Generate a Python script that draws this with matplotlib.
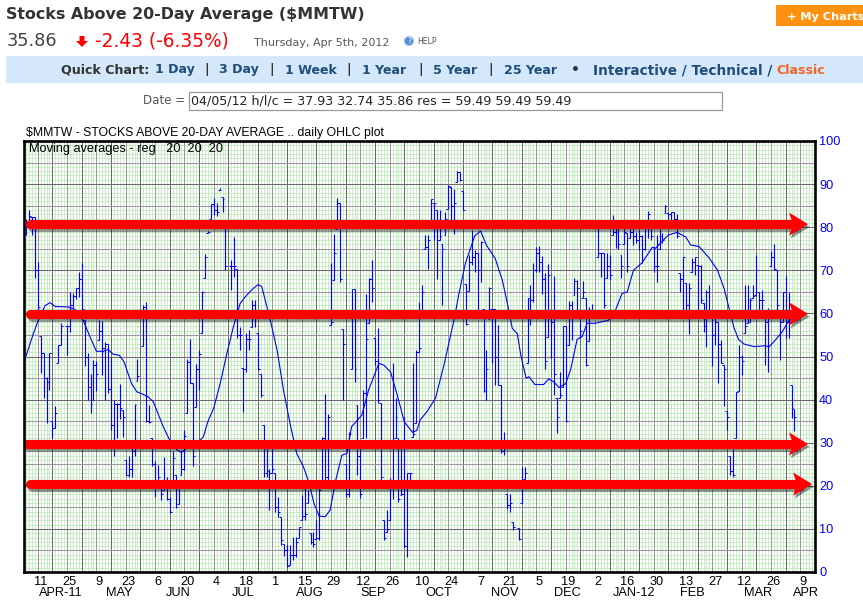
import numpy as np
import pandas as pd
import matplotlib
matplotlib.use('Agg')
import matplotlib.pyplot as plt
import matplotlib.patheffects as pe
from matplotlib.patches import Polygon, Rectangle, Circle

#####chart data, one value per trading day, nan = market closed###########
nan = np.nan
bar_high = [81.8,84.1,82.3,82.3,71.9,54.8,50.7,45.2,50.7,35.1,
            38.6,52.7,57.7,nan,57.3,65,64.7,66,69.5,71.6,
            58.5,50.7,45.9,49.2,49,58.5,58.3,53.3,53,50,
            40,39.1,43.6,37.6,26,26.8,30,39,49.4,nan,
            62,62.7,38.7,31,25.7,24.8,19.4,26.7,22,17.5,
            28.1,22.5,21,28.3,32.9,49.4,54,43.8,48.3,51.5,
            65.2,73.7,79.2,85.4,86.7,85.5,89,87,79.7,nan,
            72.4,77.8,70.4,56.9,47.4,55.4,56.2,63.1,63.1,55.4,
            46,34.1,29,24,29,22.9,17.5,12.8,6.6,6.2,
            6.2,8.2,8.2,10.5,17.8,19.4,19,9,9.3,12,
            20.5,31.4,41.3,36.6,71.6,78.5,86.7,85.7,56.3,25,
            32.5,65.6,65.6,38.7,28.7,42.2,64.6,68.1,72.4,54.2,
            56.5,39.1,12,14.4,21.7,48.4,40.3,31,29,36,
            23,23,48.4,51.5,62.7,66.6,78.2,78.2,86.5,85.7,
            84,84,76.2,83.6,89.8,89.4,88.8,93,92.9,88.4,
            66.9,73.5,79.3,74.7,73.9,76.8,61.1,51.6,66.2,61.1,
            61.1,57.3,43.4,32.5,18.2,18.2,11.6,nan,10.3,24.4,
            24.4,63.5,66.7,71.8,75.5,75.6,73.4,69.4,71.4,58.9,
            68.7,40.3,46.5,57,57,62.9,62.9,68.2,67.8,60.4,
            67.5,63.5,61.6,62.1,nan,79.8,74,74,74,73.6,
            82.9,79.8,80,73.6,80,78.6,80,79.8,79,79.4,
            78.2,81.7,83.8,79.8,75.5,78.2,80,78.6,85.2,83.3,
            83.6,83.6,83,69.3,73.2,67,67,72.8,73.2,71.3,
            71.3,62.4,65.5,66.6,58.9,58.9,58.1,53.9,48,37.4,
            26.9,28.7,41.7,52.7,50.4,66.6,66.6,63.5,66.6,73.6,
            65,65.4,59.7,61.2,74.4,76,70.1,60.8,65,68.6,
            65,43.4,37.93]
bar_low  = [78.2,80.1,78.2,68.1,60,46.2,40.3,34.6,42.2,31,
            33.3,48.4,52.7,nan,50.3,55.8,61.2,63.3,63.9,60,
            47.8,39.9,37,39.9,42,53.8,45.7,39.9,41.5,33,
            26.8,31,35.6,31.4,22.5,22,22,26.8,44.2,nan,
            52.4,34.8,34.6,24.5,17.5,21.3,16.7,19,16.7,13.6,
            21.3,14.8,15.8,22.5,23.7,36.8,43.8,24.5,38.2,42.2,
            55.4,68.3,78.6,82,82.8,82.5,88.6,83.6,70,nan,
            65.4,68.5,54.2,51.5,37.2,46.5,51.5,56.9,56.9,46.9,
            40.7,22.1,22,14.4,22.9,14,12.8,6.2,3.7,1.2,
            1.6,2.8,3.5,7.8,12,12,16,6.6,5.9,7.6,
            7.5,21.3,21.3,21.3,57.3,67.7,79.5,67.3,39.9,17.4,
            17.4,47.2,44.1,22.5,17.1,31,31,57.7,62.7,48,
            39.1,21.3,7.4,9.3,12,17,31,16.3,17.8,5.8,
            3.5,21,31.4,34.5,51,60.4,75,70.4,81,77,
            68,77,61.9,78.2,84.3,81.6,78.5,90.5,90.7,84,
            57.3,65.2,71.2,69.5,60.8,67.3,41.8,39.9,58.8,48.4,
            43.4,43.4,27.5,27.1,14.7,14,9.7,nan,7.4,16.1,
            21.5,48.4,57.3,62.7,69.7,69.5,64.6,47,54.6,49.6,
            41,32.2,40.3,43,34.9,52.7,53.8,64.3,60.8,54.2,
            63.5,47.7,53.5,59.3,nan,73.2,68.5,61.2,68.2,67.8,
            78.2,75.1,75,68.2,76,69.7,77.5,75.9,76.3,74.7,
            71.6,74.7,77.4,77.1,69.7,67.2,75,76.3,83.3,82,
            81.7,81.3,77.4,65,60.4,60.8,55.2,69.7,68.9,60.8,
            62.4,55.8,52.3,59.7,47.7,52.7,43.8,48.4,38.4,33,
            22.5,22.1,31.2,41.9,45.7,55.4,57.7,58.1,63.5,64.3,
            60.8,60.8,48,46.5,71,70.1,58.9,49.2,58.1,54.4,
            54.2,35.7,32.74]
bar_close = [81,82.5,82.3,70,61.5,50.8,45,44,50.7,33.5,
             37,52.7,57,nan,57,62,64,66,68,61,
             50,43,39,48,46,56,52,53,42.5,34,
             39,39,38,36,22.5,24,28,38.7,45.5,nan,
             61.5,35,34.7,25,20,22,18,19.5,17,14,
             26.5,15,20,24,31.5,48.8,43.8,27,47,50.5,
             65,73,79,85.4,84,83.5,88.7,86.5,71,nan,
             71,71,55,55,47,54,54,62,60,47,
             41,23,23.5,23,24,15,14,7.5,5,1.5,
             4,4,7,10.5,13,13.5,18,7,6.5,8,
             19,31,22,36,58,74,85.7,68,53,18,
             32,65.6,47,27,18,41.5,54,68,66,49,
             40,22,8,10,20,30,36,17,18,6,
             23,23,32,51,52,65,75.5,77,86.5,85.7,
             77,78,75,82,89.5,85,85.5,92.9,91,84,
             57.5,72,73,74,70,76.5,42,47,66,61,
             50,43.5,28,29,15.5,16,10.5,nan,7.6,21,
             23,63.5,63,70,74,72,68,49,69,58,
             46,36,41,57,35,62,55,67.5,66,56,
             65,48,59,60,nan,74,74,62,71,69,
             79,79,76,71,79,71,79,78,77,78,
             75,80,83,78,71,71,78,77,85,83,
             83.6,82,78,68,73,62,66,72,73,71,
             63,57,65,60,55,58,53,48.5,47,36,
             23.5,22.5,41.7,50,49,57,58,63,64,70,
             63,63,58,59,73,70.2,62,58,65,58,
             58,38,35.86]
first_open = 79.5

ma_day = [0,2.5,4.2,6.5,8.2,10,14.4,16.7,19.5,21.8,24,26.3,28,29.8,31.8,33.4,36,37.8,40,41.7,
          43.4,45,46.8,49,51.4,53,54.7,58.2,60.5,62,64,66.2,68.5,70.7,73,75.2,77.5,79.2,80.4,83.3,
          85.6,87.8,90,92.3,94.6,96.4,98.2,99.9,102,103.7,105.6,107.7,109.4,111,114.5,116.8,120.3,122,124.3,126.6,
          129,131.8,133.3,134.4,136.7,139.6,142.5,145.9,147.5,149.8,151.5,153,155,157,160,162.4,164,165.8,167.5,168.7,
          170.5,171.5,173.5,176.5,178.2,180,181.7,184,185.7,187.9,189.6,191.3,194,198.6,201,203.2,205,207.1,210,213.5,
          214.6,219,222,225,226.6,229.5,233,235.7,238,239.7,241.4,243,244.8,248.2,252.2,253.3,255.6,257.9,260.2,262]
ma_val = [50.1,55.3,58.4,61.8,62.5,61.6,61.5,60.9,58.4,54.6,51.2,51.2,51.6,50.5,50.3,48.8,43.7,41.8,41.2,40.6,
          39.5,36.8,33.7,30.6,28.4,27.7,28.7,29.8,31.4,34.9,38,43.7,50.7,56.9,62.3,64.2,65.8,66.7,66.2,58.4,
          51.5,42.2,34.5,27.5,24.4,20.9,15.9,13,12.8,14.4,21.3,27.1,27.5,33.7,36.4,42.2,48.4,48,46.4,41,
          34.8,32.4,32.9,35.3,37.2,40.3,48,58.4,64.2,71.6,75,78,79.1,75.8,72.7,67.7,62.7,56.5,55.3,50.3,
          45,45.3,43.5,43.5,44.8,44.1,42.8,43.7,47,54,54.6,57.7,57.7,58.4,60.8,64.6,65,70,71.7,75.3,
          75.1,78.2,78.8,77.7,75.9,75.5,72.8,70.1,65.8,61.2,56.6,53.9,52.9,52.3,52.5,52.2,53.9,55.8,58.5,59.49]

tick_day = list(range(5,270,10))
tick_lbl = ['11','25','9','23','6','20','4','18','1','15','29','12','26','10','24','7','21','5','19','2','16','30','13','27','12','26','9']
month_day = [11.9,31.7,51.8,74,96.8,118.3,140.8,163.3,184.5,207.3,227.1,249.6,265.9]
month_lbl = ['APR-11','MAY','JUN','JUL','AUG','SEP','OCT','NOV','DEC','JAN-12','FEB','MAR','APR']
arrow_level = [80.7,59.9,29.7,20.4]

#####figure and axes##########################
W,H   = 863,616
fig   = plt.figure(figsize=(W/100,H/100),dpi=100,facecolor='white')
ax    = fig.add_axes([24/W,1-572/H,791/W,431/H])
ax.set_xlim(-0.68,269)
ax.set_ylim(0,100)

# grids, green paper first then the grey weekly/5-unit lines
for d in range(0,270):
    ax.axvline(d,color='#c6eec2',lw=0.72,zorder=1)
for v in range(0,100):
    ax.axhline(v,color='#c6eec2',lw=0.72,zorder=1)
for d in range(4,270,5):
    ax.axvline(d,color='#6a6a6a' if d%10==9 else '#9a979a',lw=0.72,zorder=2)
for v in range(5,100,5):
    ax.axhline(v,color='#6a6a6a' if v%10==0 else '#9a979a',lw=0.72,zorder=2)

#####ohlc bars################################
df = pd.DataFrame({'h':bar_high,'l':bar_low,'c':bar_close})
df['o'] = df['c'].ffill().shift(1).fillna(first_open)
df = df.dropna()
blue = '#0000ff'
ax.vlines(df.index,df['l'],df['h'],color=blue,lw=0.85,zorder=3)
ax.hlines(df['o'].clip(df['l'],df['h']),df.index-0.65,df.index,color=blue,lw=0.75,zorder=3)
ax.hlines(df['c'],df.index,df.index+0.65,color=blue,lw=0.75,zorder=3)
ax.plot(ma_day,ma_val,color=blue,lw=0.8,zorder=3)

#####axes text################################
chart_font = 'Liberation Sans'
ax.yaxis.tick_right()
ax.set_yticks(range(0,101,10))
ax.tick_params(axis='y',length=0,pad=3,labelcolor=blue,labelsize=9.2)
ax.set_xticks(tick_day)
ax.set_xticklabels(tick_lbl)
ax.tick_params(axis='x',length=0,pad=3,labelcolor='black',labelsize=9.2)
for t in ax.get_xticklabels()+ax.get_yticklabels():
    t.set_family(chart_font)
for d,m in zip(month_day,month_lbl):
    ax.text(d,-4.9,m,ha='center',va='center',fontsize=9.2,family=chart_font,clip_on=False)
for s in ax.spines.values():
    s.set_linewidth(1.9)
    s.set_color('black')
    s.set_zorder(6)
ax.text(0.9,98.1,'Moving averages - reg   20  20  20',fontsize=9.2,family=chart_font,va='center',zorder=5)

#####red hand drawn arrows####################
arrow_px = [(30,808),(30,808),(26,808),(30,812)]
shadow = [pe.SimpleLineShadow(offset=(1.2,-2),shadow_color='black',alpha=0.4),pe.Normal()]
for lev,(x0,x1) in zip(arrow_level,arrow_px):
    d0 = (x0-26)/2.933
    d1 = (x1-14-26)/2.933
    ax.plot([d0,d1],[lev,lev],color='#ff0000',lw=6.6,solid_capstyle='round',zorder=4,path_effects=shadow)
    head = np.array([[x1-19,lev+2.7],[x1,lev],[x1-19,lev-2.7],[x1-15,lev]])
    head[:,0] = (head[:,0]-26)/2.933
    ax.add_patch(Polygon(head,closed=True,fc='#ff0000',ec='none',zorder=4,clip_on=False,
                         path_effects=[pe.SimplePatchShadow(offset=(1.2,-2),shadow_rgbFace='black',alpha=0.4),pe.Normal()]))

#####page furniture, in pixels################
pg = fig.add_axes([0,0,1,1],zorder=-1)
pg.set_xlim(0,W)
pg.set_ylim(H,0)
pg.axis('off')

page_font = 'DejaVu Sans'
dark = '#333333'
link = '#1f4e79'
pg.add_patch(Rectangle((776,5),87,21,fc='#ff9110',ec='none'))
pg.add_patch(Rectangle((6,56),857,27,fc='#d5e8fb',ec='none'))
pg.add_patch(Rectangle((188.5,91.5),533,18,fc='white',ec='#999999',lw=0.9))
pg.add_patch(Circle((409,41),4.5,fc='#4f8fd0',ec='#9cc0e6',lw=0.8))
pg.add_patch(Polygon([[79.5,36],[84.5,36],[84.5,41],[88,41],[82,47],[76,41],[79.5,41]],closed=True,fc='#ff0000',ec='none'))

def page_text(x,y,s,size,color=dark,bold=False,ha='left'):
    pg.text(x,y,s,fontsize=size,color=color,family=page_font,ha=ha,va='center',
            fontweight='bold' if bold else 'normal',parse_math=False)

page_text(6,15,'Stocks Above 20-Day Average ($MMTW)',11.4,bold=True)
page_text(7,41,'35.86',12.8,color='#444444')
page_text(95,41,'-2.43 (-6.35%)',13.4,color='#ff0000')
page_text(254,43,'Thursday, Apr 5th, 2012',8.05,color='#555555')
page_text(409,41,'?',5.5,color='white',ha='center')
page_text(417,41,'HELP',5.6,color='#555555')
page_text(787,17,'+ My Charts',8.1,color='white',bold=True)
page_text(61,70,'Quick Chart:',9.1,bold=True,color=dark)
for x,s in [(155,'1 Day'),(219,'3 Day'),(285,'1 Week'),(362,'1 Year'),(433,'5 Year'),(504,'25 Year')]:
    page_text(x,70,s,9.1,color=link,bold=True)
page_text(593,70,'Interactive / Technical /',9.8,color=link,bold=True)
for x in [207,272,349,421,491]:
    page_text(x,70,'|',9.1,color=dark,bold=True,ha='center')
page_text(575,70,'\u2022',10,color=dark,bold=True,ha='center')
page_text(776,70,'Classic',9.1,color='#f26522',bold=True)
page_text(143,100,'Date =',8.6,color='#555555')
page_text(191,101,'04/05/12 h/l/c = 37.93 32.74 35.86 res = 59.49 59.49 59.49',9.05,color='#222222')
pg.text(26,133,'$MMTW - STOCKS ABOVE 20-DAY AVERAGE .. daily OHLC plot',fontsize=8.8,family=chart_font,va='center',parse_math=False)

fig.savefig('out.png',dpi=100)
